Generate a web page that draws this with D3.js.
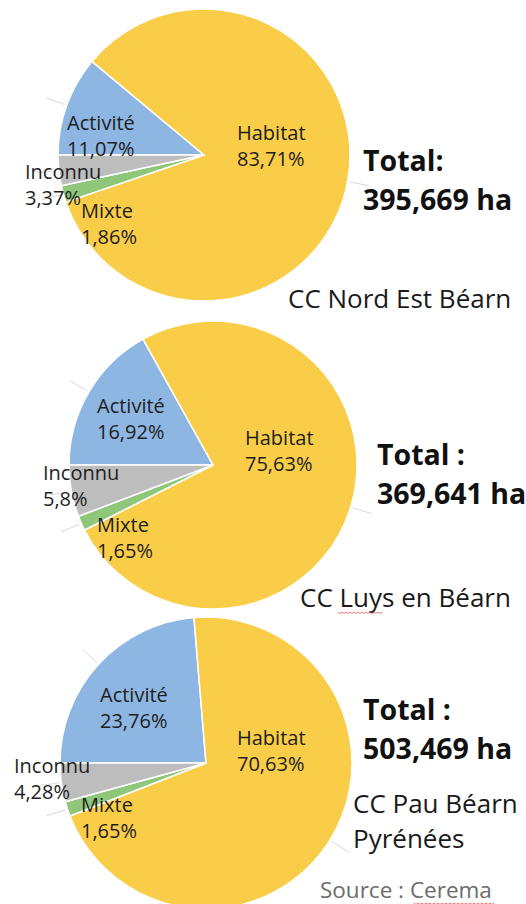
<!DOCTYPE html>
<html>
<head>
<meta charset="utf-8">
<script src="https://cdn.jsdelivr.net/npm/d3@7"></script>
<style>
  html, body { margin: 0; padding: 0; background: #fff; }
  svg { display: block; font-family: "Open Sans", "Noto Sans", sans-serif; }
</style>
</head>
<body>
<div id="chart"></div>
<script>
// --- data ---
const categories = ["Activité", "Habitat", "Mixte", "Inconnu"];
const colors = ["#8db6e2", "#f9cd48", "#8fc77a", "#bdbdbd"];

const territories = ["CC Nord Est Béarn", "CC Luys en Béarn", "CC Pau Béarn Pyrénées"];
const totals = ["Total:", "Total :", "Total :"];
const totalValues = ["395,669 ha", "369,641 ha", "503,469 ha"];

const valuesNordEst = [11.07, 83.71, 1.86, 3.37];
const valuesLuys = [16.92, 75.63, 1.65, 5.8];
const valuesPau = [23.76, 70.63, 1.65, 4.28];
const percentLabels = [
  ["11,07%", "83,71%", "1,86%", "3,37%"],
  ["16,92%", "75,63%", "1,65%", "5,8%"],
  ["23,76%", "70,63%", "1,65%", "4,28%"]
];

const source = "Source : Cerema";

// --- layout ---
const width = 526, height = 904;

const panels = [
  { values: valuesNordEst, cx: 204, cy: 155, r: 146,
    // label offsets (left edge, first baseline) from the pie centre
    labels: [[-137, -25], [33, -15], [-123, 63], [-179, 24]],
    totalPos: [363, 171], namePos: [288, 308], nameLines: [territories[0]] },
  { values: valuesLuys, cx: 213, cy: 465, r: 144,
    labels: [[-116, -52], [32, -20], [-116, 67], [-170, 15]],
    totalPos: [377, 465], namePos: [300, 607], nameLines: [territories[1]] },
  { values: valuesPau, cx: 206, cy: 763, r: 146,
    labels: [[-106, -61], [31, -18], [-125, 49], [-192, 10]],
    totalPos: [363, 720], namePos: [353, 813], nameLines: ["CC Pau Béarn", "Pyrénées"] }
];

const svg = d3.select("#chart").append("svg")
  .attr("width", width)
  .attr("height", height);

svg.append("rect").attr("width", width).attr("height", height).attr("fill", "#fff");

const color = d3.scaleOrdinal().domain(categories).range(colors);

const pie = d3.pie()
  .sort(null)
  .value(d => d.value)
  .startAngle(-Math.PI / 2)
  .endAngle(3 * Math.PI / 2);

panels.forEach((p, pi) => {
  const rows = categories.map((c, i) => ({ cat: c, value: p.values[i], label: percentLabels[pi][i] }));
  const arcs = pie(rows);

  const g = svg.append("g").attr("transform", `translate(${p.cx},${p.cy})`);

  // faint leader lines
  const lineIn = d3.arc().innerRadius(p.r + 2).outerRadius(p.r + 2);
  const lineOut = d3.arc().innerRadius(p.r + 22).outerRadius(p.r + 22);
  g.selectAll(".leader")
    .data(arcs)
    .enter()
    .append("line")
    .attr("class", "leader")
    .attr("x1", d => lineIn.centroid(d)[0])
    .attr("y1", d => lineIn.centroid(d)[1])
    .attr("x2", d => lineOut.centroid(d)[0])
    .attr("y2", d => lineOut.centroid(d)[1])
    .attr("stroke", "#d9d9d9")
    .attr("stroke-width", 1);

  const arc = d3.arc().innerRadius(0).outerRadius(p.r);
  g.selectAll(".slice")
    .data(arcs)
    .enter()
    .append("path")
    .attr("class", "slice")
    .attr("d", arc)
    .attr("fill", d => color(d.data.cat))
    .attr("stroke", "#fff")
    .attr("stroke-width", 1.5)
    .attr("stroke-linejoin", "round");

  // data labels
  const lab = g.selectAll(".lab")
    .data(arcs)
    .enter()
    .append("text")
    .attr("class", "lab")
    .attr("font-size", 20)
    .attr("fill", "#1e1e1e");
  lab.append("tspan")
    .attr("x", (d, i) => p.labels[i][0])
    .attr("y", (d, i) => p.labels[i][1])
    .text(d => d.data.cat);
  lab.append("tspan")
    .attr("x", (d, i) => p.labels[i][0])
    .attr("y", (d, i) => p.labels[i][1] + 26)
    .text(d => d.data.label);

  // total
  const t = svg.append("text")
    .attr("font-size", 28.5)
    .attr("font-weight", 700)
    .attr("fill", "#111");
  t.append("tspan").attr("x", p.totalPos[0]).attr("y", p.totalPos[1]).text(totals[pi]);
  t.append("tspan").attr("x", p.totalPos[0]).attr("y", p.totalPos[1] + 39).text(totalValues[pi]);

  // territory name
  const n = svg.append("text")
    .attr("font-size", 26)
    .attr("fill", "#1a1a1a");
  p.nameLines.forEach((s, i) => {
    n.append("tspan").attr("x", p.namePos[0]).attr("y", p.namePos[1] + i * 35).text(s);
  });
});

// spell-check squiggles as in the source screenshot
function squiggle(x0, x1, y) {
  const pts = d3.range(x0, x1, 2).map((x, i) => [x, y + (i % 2 ? 1.5 : 0)]);
  svg.append("path")
    .attr("d", d3.line()(pts))
    .attr("fill", "none")
    .attr("stroke", "#e05050")
    .attr("stroke-width", 0.8);
}
squiggle(338, 384, 612);
squiggle(414, 496, 903);

svg.append("text")
  .attr("x", 320)
  .attr("y", 898)
  .attr("font-size", 22.5)
  .attr("fill", "#6b6b6b")
  .text(source);
</script>
</body>
</html>
